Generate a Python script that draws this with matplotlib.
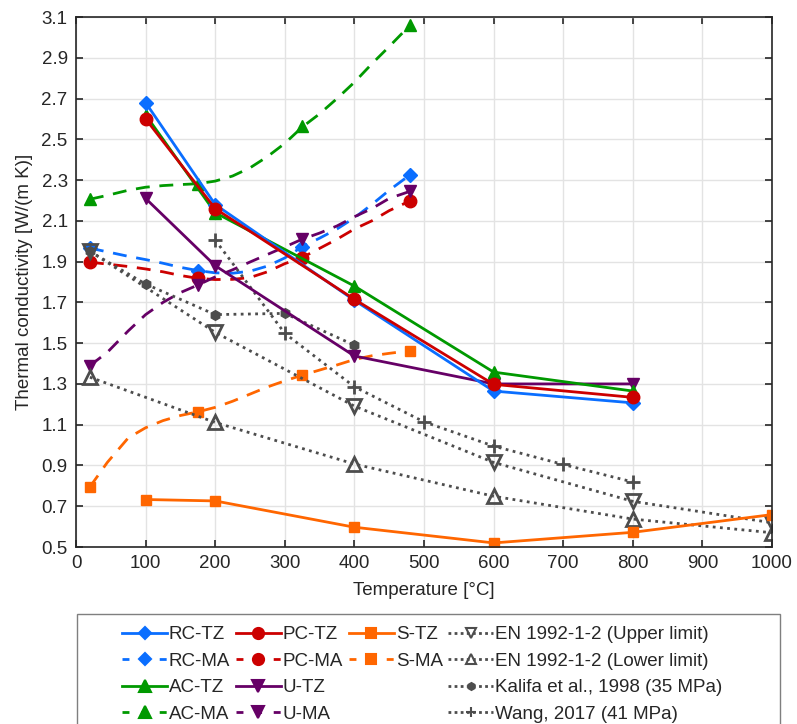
import matplotlib
matplotlib.use("Agg")
import matplotlib.pyplot as plt
from matplotlib.lines import Line2D
from matplotlib.patches import Rectangle

plt.rcParams['font.family'] = ['Liberation Sans', 'DejaVu Sans']
plt.rcParams['font.size'] = 13

# test data (markers)
tz_temp = [100, 200, 400, 600, 800]
rc_tz = [2.68, 2.18, 1.71, 1.265, 1.207]
pc_tz = [2.60, 2.16, 1.715, 1.298, 1.234]
ac_tz = [2.62, 2.14, 1.78, 1.358, 1.265]
u_tz = [2.21, 1.88, 1.437, 1.30, 1.30]
s_tz_temp = [100, 200, 400, 600, 800, 1000]
s_tz = [0.733, 0.726, 0.597, 0.52, 0.572, 0.659]

ma_temp = [20, 175, 325, 480]
rc_ma = [1.966, 1.856, 1.973, 2.326]
pc_ma = [1.897, 1.818, 1.92, 2.198]
ac_ma = [2.206, 2.28, 2.563, 3.06]
u_ma = [1.39, 1.785, 2.01, 2.245]
s_ma = [0.795, 1.163, 1.343, 1.463]

# MA fitted curves
ma_curve_temp = [20, 45, 75, 100, 125, 150, 175, 200, 225, 250, 275, 300,
                 325, 350, 375, 400, 425, 450, 480]
rc_ma_curve = [1.966, 1.948, 1.926, 1.91, 1.892, 1.872, 1.856, 1.845, 1.843, 1.853,
               1.878, 1.918, 1.973, 2.015, 2.06, 2.115, 2.18, 2.25, 2.326]
pc_ma_curve = [1.897, 1.888, 1.876, 1.864, 1.85, 1.832, 1.818, 1.812, 1.813, 1.822,
               1.85, 1.89, 1.92, 1.965, 2.01, 2.06, 2.10, 2.15, 2.198]
ac_ma_curve = [2.206, 2.225, 2.25, 2.265, 2.273, 2.278, 2.282, 2.295, 2.32, 2.36,
               2.415, 2.48, 2.56, 2.625, 2.70, 2.78, 2.87, 2.955, 3.06]
u_ma_curve = [1.39, 1.455, 1.56, 1.64, 1.70, 1.748, 1.785, 1.825, 1.86, 1.898,
              1.935, 1.972, 2.01, 2.04, 2.075, 2.12, 2.16, 2.21, 2.245]
s_ma_curve = [0.795, 0.915, 1.035, 1.085, 1.12, 1.145, 1.163, 1.185, 1.215, 1.25,
              1.285, 1.315, 1.343, 1.368, 1.393, 1.42, 1.438, 1.45, 1.463]

# literature
en_temp = [20, 200, 400, 600, 800, 1000]
en_upper = [1.951, 1.553, 1.191, 0.915, 0.724, 0.619]
en_lower = [1.333, 1.111, 0.907, 0.749, 0.637, 0.57]
kalifa_temp = [20, 100, 200, 300, 400]
kalifa = [1.95, 1.79, 1.64, 1.646, 1.49]
wang_temp = [200, 300, 400, 500, 600, 700, 800]
wang = [2.006, 1.548, 1.286, 1.114, 0.995, 0.905, 0.819]

blue = '#0A6EFF'
red = '#CC0000'
green = '#009900'
orange = '#FF6600'
purple = '#660066'
gray = '#4D4D4D'
txt = '#262626'

fig = plt.figure(figsize=(7.97, 7.24), dpi=100)
ax = fig.add_axes([76 / 797, 1 - 547 / 724, 696 / 797, 530 / 724])

lw = 2
dash = (5, 3.5)
dot = (1, 1.6)

# MA curves + markers
for curve, pts, col, mk, ms in [
        (ac_ma_curve, ac_ma, green, '^', 9),
        (rc_ma_curve, rc_ma, blue, 'D', 7),
        (pc_ma_curve, pc_ma, red, 'o', 9),
        (u_ma_curve, u_ma, purple, 'v', 9),
        (s_ma_curve, s_ma, orange, 's', 7.5)]:
    ax.plot(ma_curve_temp, curve, color=col, lw=lw, ls=(0, dash))
    ax.plot(ma_temp, pts, ls='none', marker=mk, ms=ms, color=col)

# literature
ax.plot(en_temp, en_upper, color=gray, lw=lw, ls=(0, dot), marker='v', ms=10,
        mfc='none', mew=2)
ax.plot(en_temp, en_lower, color=gray, lw=lw, ls=(0, dot), marker='^', ms=10,
        mfc='none', mew=2)
ax.plot(kalifa_temp, kalifa, color=gray, lw=lw, ls=(0, dot), marker='h', ms=7)
ax.plot(wang_temp, wang, color=gray, lw=lw, ls=(0, dot), marker='+', ms=10, mew=2)

# TZ
ax.plot(s_tz_temp, s_tz, color=orange, lw=lw, marker='s', ms=7.5)
ax.plot(tz_temp, u_tz, color=purple, lw=lw, marker='v', ms=9)
ax.plot(tz_temp, ac_tz, color=green, lw=lw, marker='^', ms=9)
ax.plot(tz_temp, rc_tz, color=blue, lw=lw, marker='D', ms=7)
ax.plot(tz_temp, pc_tz, color=red, lw=lw, marker='o', ms=9)

ax.set_xlim(0, 1000)
ax.set_ylim(0.5, 3.1)
ax.set_xticks(range(0, 1001, 100))
ax.set_yticks([0.5 + 0.2 * i for i in range(14)])
ax.set_yticklabels([f"{0.5 + 0.2 * i:.1f}" for i in range(14)])
ax.grid(True, color='#E3E3E3', lw=1)
ax.set_axisbelow(True)
ax.tick_params(direction='in', top=True, right=True, length=5, width=1.2,
               colors=txt, labelsize=13.5, labelcolor=txt, pad=6)
for s in ax.spines.values():
    s.set_color(txt)
    s.set_linewidth(1.2)
ax.set_xlabel('Temperature [°C]', fontsize=13.5, color=txt, labelpad=7)
ax.set_ylabel('Thermal conductivity [W/(m K)]', fontsize=13.5, color=txt, labelpad=6)

def h(col, mk, ls, ms=8, mfc=None):
    return Line2D([], [], color=col, lw=lw, ls=ls, marker=mk, ms=ms,
                  mfc=mfc if mfc else col, mew=1.5)

blank = Line2D([], [], ls='none')
mdash = (0, (2.5, 4.2))
mdot = (0, (1, 1.2))
handles = [
    h(blue, 'D', '-', 6.5), h(blue, 'D', mdash, 6.5),
    h(green, '^', '-'), h(green, '^', mdash),
    h(red, 'o', '-'), h(red, 'o', mdash),
    h(purple, 'v', '-'), h(purple, 'v', mdash),
    h(orange, 's', '-', 6.5), h(orange, 's', mdash, 6.5),
    blank, blank,
    h(gray, 'v', mdot, 7, 'none'), h(gray, '^', mdot, 7, 'none'),
    h(gray, 'h', mdot, 5), h(gray, '+', mdot, 7),
]
labels = ['RC-TZ', 'RC-MA', 'AC-TZ', 'AC-MA',
          'PC-TZ', 'PC-MA', 'U-TZ', 'U-MA',
          'S-TZ', 'S-MA', '', '',
          'EN 1992-1-2 (Upper limit)', 'EN 1992-1-2 (Lower limit)',
          'Kalifa et al., 1998 (35 MPa)', 'Wang, 2017 (41 MPa)']
leg = fig.legend(handles, labels, ncol=4, loc='upper left',
                 bbox_to_anchor=(122 / 797, 1 - 626 / 724),
                 fontsize=13.5, frameon=False,
                 handlelength=2.4, handletextpad=0.1, columnspacing=0.3,
                 labelspacing=0.5, borderpad=0, borderaxespad=0)
for t in leg.get_texts():
    t.set_color(txt)

# legend box (wider than its content, runs off the bottom edge)
fig.add_artist(Rectangle((77 / 797, -0.02), (780 - 77) / 797, 0.02 + (724 - 614) / 724,
                         transform=fig.transFigure, fill=False,
                         edgecolor='#7F7F7F', lw=1))

fig.savefig('out.png', dpi=100)
